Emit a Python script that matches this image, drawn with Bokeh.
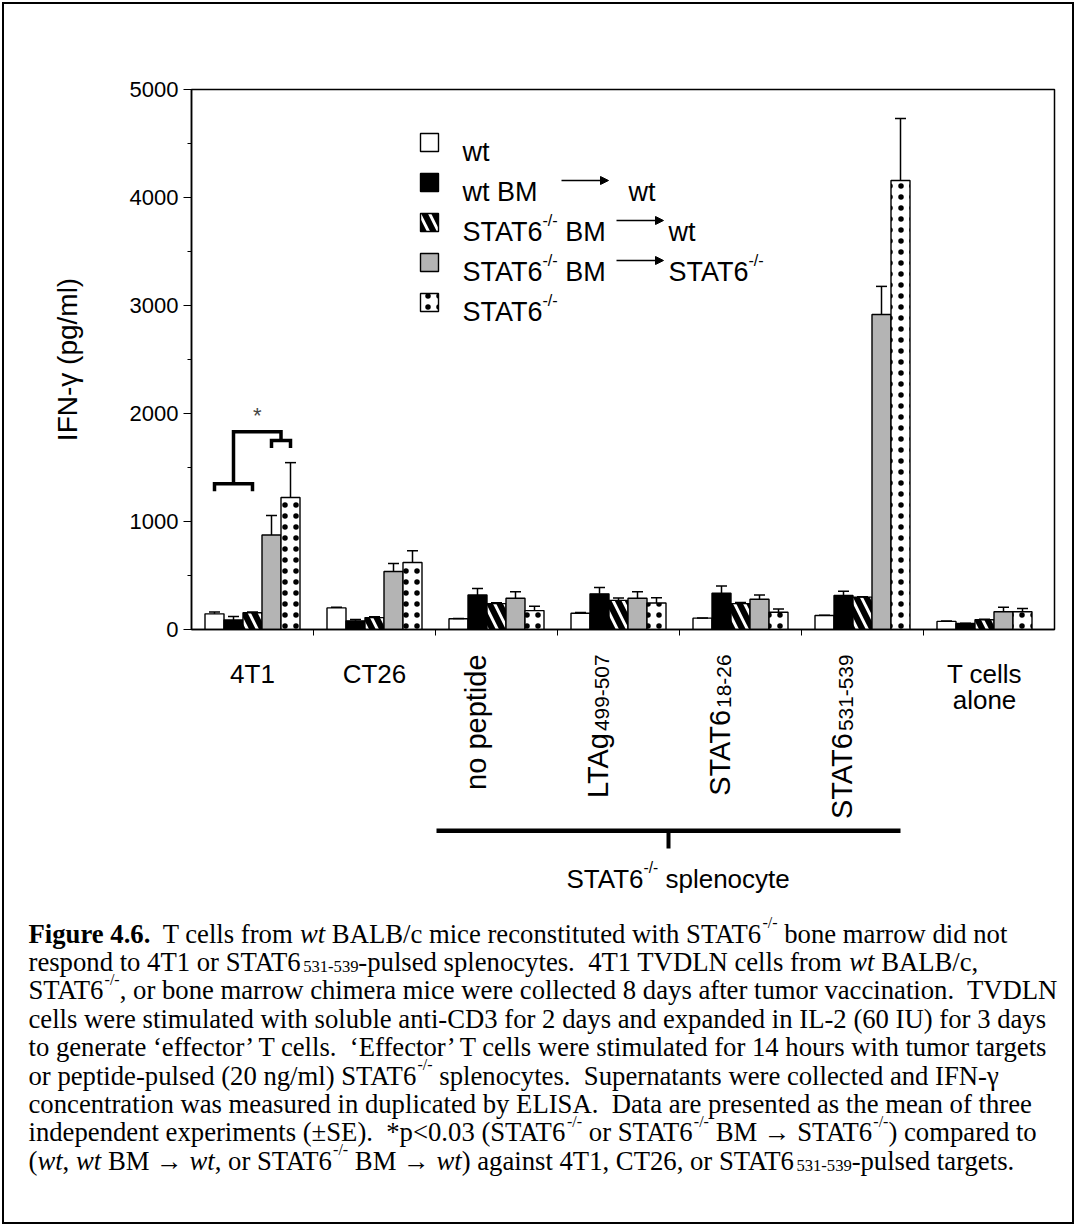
import math
from bokeh.plotting import figure
from bokeh.layouts import column
from bokeh.models import (Range1d, FixedTicker, Label, Arrow, NormalHead)
from bokeh.embed import file_html
from bokeh.resources import INLINE

# ---------------- data ----------------
groups = ["4T1", "CT26", "no peptide", "LTAg499-507", "STAT6 18-26", "STAT6 531-539", "T cells alone"]
group_main = ["4T1", "CT26", "no peptide", "LTAg", "STAT6", "STAT6", "T cells"]
group_sub = ["", "", "", "499-507", "18-26", "531-539", "alone"]
group_rot = [False, False, True, True, True, True, False]

series_names = ["wt", "wt BM -> wt", "STAT6-/- BM -> wt", "STAT6-/- BM -> STAT6-/-", "STAT6-/-"]
wt = [145, 200, 100, 150, 105, 130, 75]
wt_err = [18, 6, 2, 8, 2, 3, 4]
wtbm = [88, 80, 320, 330, 335, 315, 55]
wtbm_err = [32, 12, 60, 60, 68, 40, 4]
bm_wt = [155, 110, 240, 270, 240, 300, 90]
bm_wt_err = [8, 8, 8, 22, 10, 4, 6]
bm_stat = [875, 537, 290, 290, 280, 2917, 165]
bm_stat_err = [180, 73, 60, 60, 40, 260, 40]
stat6 = [1222, 620, 175, 245, 160, 4157, 165]
stat6_err = [323, 110, 40, 50, 30, 574, 30]
values = [wt, wtbm, bm_wt, bm_stat, stat6]
errors = [wt_err, wtbm_err, bm_wt_err, bm_stat_err, stat6_err]

y_ticks = [0, 1000, 2000, 3000, 4000, 5000]
bracket_levels = [1280, 1350, 1830, 1750, 1680]   # significance bracket heights

# ---------------- layout (screenshot px) ----------------
ORG = 4                     # content origin inside the bordered column
CW = 1068                   # content width
HA, HB = 647, 571           # heights of chart part and caption part
FL, FT, FR, FB = 191, 89, 1054, 629
GPX = 122.0
BW = 19.0 / GPX
YMAX = 5000.0
PXY = (FB - FT) / YMAX


def X(sx):
    return (sx - FL) / GPX


def Y(sy):
    return (FB - sy) / PXY


p = figure(width=CW, height=HA, output_backend="svg", toolbar_location=None,
           x_range=Range1d(0, (FR - FL) / GPX), y_range=Range1d(0, YMAX),
           min_border_left=FL - ORG, min_border_top=FT - ORG,
           min_border_right=CW - (FR - ORG), min_border_bottom=HA - (FB - ORG))
p.grid.visible = False
p.outline_line_color = "black"
p.outline_line_width = 1.5
p.background_fill_color = "white"
p.border_fill_color = "white"

p.yaxis.ticker = FixedTicker(ticks=y_ticks, minor_ticks=[500 + 1000 * i for i in range(5)])
p.yaxis.major_tick_out = 8
p.yaxis.major_tick_in = 0
p.yaxis.minor_tick_out = 4
p.yaxis.minor_tick_in = 0
p.yaxis.axis_line_width = 1.5
p.yaxis.major_tick_line_width = 1.2
p.yaxis.major_label_text_font = "Liberation Sans"
p.yaxis.major_label_text_font_size = "22px"
p.yaxis.major_label_text_color = "black"
p.yaxis.major_label_standoff = 5
p.yaxis.axis_label = "IFN-γ (pg/ml)"
p.yaxis.axis_label_text_font = "Liberation Sans"
p.yaxis.axis_label_text_font_size = "28px"
p.yaxis.axis_label_text_font_style = "normal"
p.yaxis.axis_label_text_color = "black"
p.yaxis.axis_label_standoff = 44

p.xaxis.ticker = FixedTicker(ticks=[1, 2, 3, 4, 5, 6], minor_ticks=[])
p.xaxis.major_tick_out = 6
p.xaxis.major_tick_in = 0
p.xaxis.axis_line_width = 1.5
p.xaxis.major_label_text_font_size = "0px"
p.xaxis.major_label_overrides = {i: "" for i in range(1, 7)}

STY = [
    dict(fill_color="white"),
    dict(fill_color="black"),
    dict(fill_color="white", hatch_pattern="left_diagonal_line", hatch_color="black",
         hatch_weight=6, hatch_scale=20),
    dict(fill_color="#b4b4b4"),
    dict(fill_color="white", hatch_pattern="dot", hatch_color="black",
         hatch_weight=1, hatch_scale=11),
]

bar_x = []
for k in range(5):
    xs = [g + 0.5 + (k - 2) * BW for g in range(len(groups))]
    bar_x.append(xs)
    p.vbar(x=xs, top=values[k], width=BW, bottom=0, line_color="black",
           line_width=1.4, **STY[k])
    tops = [v + e for v, e in zip(values[k], errors[k])]
    cw = 5.5 / GPX
    p.segment(x0=xs, y0=values[k], x1=xs, y1=tops, line_color="black", line_width=1.5)
    p.segment(x0=[x - cw for x in xs], y0=tops, x1=[x + cw for x in xs], y1=tops,
              line_color="black", line_width=1.5)

# significance brackets (4T1 group)
b = [bar_x[k][0] for k in range(5)]
lo_t, lo, top, sm, sm_t = bracket_levels
m34 = (b[3] + b[4]) / 2
bk = dict(line_color="black", line_width=3.5, line_join="miter")
p.line([b[0], b[0], b[2], b[2]], [lo_t, lo, lo, lo_t], **bk)
p.line([b[1], b[1], m34, m34], [lo, top, top, sm], **bk)
p.line([b[3], b[3], b[4], b[4]], [sm_t, sm, sm, sm_t], **bk)
p.add_layout(Label(x=(b[1] + m34) / 2, y=Y(415), text="*", text_font="Liberation Sans",
                   text_font_size="22px", text_align="center", text_baseline="middle"))

# ---------------- lower figure (labels + caption), data units = page pixels ----------------
q = figure(width=CW, height=HB, output_backend="svg", toolbar_location=None,
           x_range=Range1d(ORG, ORG + CW), y_range=Range1d(ORG + HA + HB, ORG + HA),
           x_axis_type=None, y_axis_type=None, min_border=0)
q.grid.visible = False
q.outline_line_color = None
q.background_fill_color = "white"
q.border_fill_color = "white"

for fig in (p, q):
    if "frame_align" in fig.properties():
        fig.frame_align = False


# ---------------- text helpers ----------------
def mk(upper, lower, digits, extra):
    d = dict(zip("ABCDEFGHIJKLMNOPQRSTUVWXYZ", upper))
    d.update(zip("abcdefghijklmnopqrstuvwxyz", lower))
    d.update({c: digits for c in "0123456789"})
    d.update(extra)
    return {k: v / 1000.0 for k, v in d.items()}


ARIAL = mk([667, 667, 722, 722, 667, 611, 778, 722, 278, 500, 667, 556, 833, 722, 778, 667, 778, 722, 667, 611, 722, 667, 944, 667, 667, 611],
           [556, 556, 500, 556, 556, 278, 556, 556, 222, 222, 500, 222, 833, 556, 556, 556, 556, 333, 500, 278, 556, 500, 722, 500, 500, 500],
           556, {" ": 278, "-": 333, "/": 278, "(": 333, ")": 333, "*": 389, "γ": 500})
TIMES = mk([722, 667, 667, 722, 611, 556, 722, 722, 333, 389, 722, 611, 889, 722, 722, 556, 722, 667, 556, 611, 722, 722, 944, 722, 722, 611],
           [444, 500, 444, 500, 444, 333, 500, 500, 278, 278, 500, 278, 778, 500, 500, 500, 500, 333, 389, 278, 500, 500, 722, 500, 500, 444],
           500, {" ": 250, "\u00a0": 250, ".": 250, ",": 250, "-": 333, "(": 333, ")": 333, "/": 278,
                 "*": 500, "<": 564, "±": 564, "→": 1000, "γ": 411, "‘": 333, "’": 333, ":": 278})
TIMES_B = dict(TIMES)
TIMES_B.update({"u": 0.556, "r": 0.444})
TIMES_I = dict(TIMES)
TIMES_I.update({"w": 0.667})


def tw(s, table):
    return sum(table.get(c, 0.5) for c in s)


def add_text(fig, text, sx, sy, fs, font="Liberation Sans", style="normal", align="left",
             baseline="alphabetic", angle=0.0):
    if fig is p:
        x, y = X(sx), Y(sy)
    else:
        x, y = sx, sy
    fig.add_layout(Label(x=x, y=y, text=text, text_font=font,
                         text_font_size="%.1fpx" % fs, text_font_style=style,
                         text_color="black", text_align=align, text_baseline=baseline,
                         angle=angle, angle_units="rad"))


def runs_h(fig, runs, x0, base, fs, font, table):
    x = x0
    for txt, st in runs:
        f, dy, style, tb = fs, 0.0, "normal", table
        if st == "sup":
            f, dy = fs * 0.6, -0.42 * fs
            x -= 0.15 * fs
        elif st == "sub":
            f, dy = fs * 0.62, 0.18 * fs
            x -= 0.1 * fs
        elif st == "b":
            style, tb = "bold", (TIMES_B if table is TIMES else table)
        elif st == "i":
            style, tb = "italic", (TIMES_I if table is TIMES else table)
        core = txt.strip(" ")
        lead = len(txt) - len(txt.lstrip(" "))
        if core:
            add_text(fig, core, x + tw(" " * lead, tb) * f, base + dy, f, font, style)
        x += tw(txt, tb) * f
    return x


def runs_v(fig, runs, bx, top_y, fs, font, table):
    sizes = [(fs * 0.72 if st == "sub" else fs) for _, st in runs]
    total = sum(tw(t, table) * f for (t, _), f in zip(runs, sizes)) - (0.08 * fs if len(runs) > 1 else 0)
    y = top_y + total
    for (txt, st), f in zip(runs, sizes):
        dx = 0.16 * fs if st == "sub" else 0.0
        add_text(fig, txt, bx + dx, y, f, font, "normal", angle=math.pi / 2)
        y -= tw(txt, table) * f - 0.08 * fs


# ---------------- group labels ----------------
for g in range(len(groups)):
    cx = FL + (g + 0.5) * GPX
    if group_rot[g]:
        runs = [(group_main[g], "n")]
        if group_sub[g]:
            runs.append((group_sub[g], "sub"))
        runs_v(q, runs, cx - 21, 654, 29, "Liberation Sans", ARIAL)
    else:
        add_text(q, group_main[g], cx, 673, 26, align="center")
        if group_sub[g]:
            add_text(q, group_sub[g], cx, 699, 26, align="center")

# ---------------- legend ----------------
rows = [142, 182, 222, 262, 302]
for k, ry in enumerate(rows):
    p.rect(x=[X(429)], y=[Y(ry)], width=18, height=18, width_units="screen",
           height_units="screen", line_color="black", line_width=1.4, **STY[k])
LF = 27
runs_h(p, [("wt", "n")], 462, rows[0] + 9, LF, "Liberation Sans", ARIAL)
runs_h(p, [("wt BM", "n")], 462, rows[1] + 9, LF, "Liberation Sans", ARIAL)
runs_h(p, [("wt", "n")], 628, rows[1] + 9, LF, "Liberation Sans", ARIAL)
for r in (2, 3):
    runs_h(p, [("STAT6", "n"), ("-/-", "sup"), (" BM", "n")], 462, rows[r] + 9, LF,
           "Liberation Sans", ARIAL)
runs_h(p, [("wt", "n")], 668, rows[2] + 9, LF, "Liberation Sans", ARIAL)
runs_h(p, [("STAT6", "n"), ("-/-", "sup")], 668, rows[3] + 9, LF, "Liberation Sans", ARIAL)
runs_h(p, [("STAT6", "n"), ("-/-", "sup")], 462, rows[4] + 9, LF, "Liberation Sans", ARIAL)
for r, (x0, x1) in zip((1, 2, 3), ((561, 608), (616, 663), (616, 663))):
    p.add_layout(Arrow(x_start=X(x0), y_start=Y(rows[r] - 2), x_end=X(x1), y_end=Y(rows[r] - 2),
                       line_width=1.3, line_color="black",
                       end=NormalHead(size=8, fill_color="black", line_color="black")))

# ---------------- splenocyte bracket ----------------
q.quad(left=[436, 666], right=[900, 670], top=[828, 830], bottom=[832.5, 848],
       fill_color="black", line_color=None)
runs_h(q, [("STAT6", "n"), ("-/-", "sup"), (" splenocyte", "n")], 566, 878, 26,
       "Liberation Sans", ARIAL)

# ---------------- caption ----------------
caption = [
    [("Figure 4.6.", "b"), ("  T cells from ", "n"), ("wt", "i"),
     (" BALB/c mice reconstituted with STAT6", "n"), ("-/-", "sup"), (" bone marrow did not", "n")],
    [("respond to 4T1 or STAT6", "n"), ("531-539", "sub"),
     ("-pulsed splenocytes.\u00a0 4T1 TVDLN cells from ", "n"), ("wt", "i"), (" BALB/c,", "n")],
    [("STAT6", "n"), ("-/-", "sup"),
     (", or bone marrow chimera mice were collected 8 days after tumor vaccination.\u00a0 TVDLN", "n")],
    [("cells were stimulated with soluble anti-CD3 for 2 days and expanded in IL-2 (60 IU) for 3 days", "n")],
    [("to generate ‘effector’ T cells.\u00a0 ‘Effector’ T cells were stimulated for 14 hours with tumor targets", "n")],
    [("or peptide-pulsed (20 ng/ml) STAT6", "n"), ("-/-", "sup"),
     (" splenocytes.\u00a0 Supernatants were collected and IFN-γ", "n")],
    [("concentration was measured in duplicated by ELISA.\u00a0 Data are presented as the mean of three", "n")],
    [("independent experiments (±SE).\u00a0 *p<0.03 (STAT6", "n"), ("-/-", "sup"), (" or STAT6", "n"),
     ("-/-", "sup"), (" BM → STAT6", "n"), ("-/-", "sup"), (") compared to", "n")],
    [("(", "n"), ("wt", "i"), (", ", "n"), ("wt", "i"), (" BM → ", "n"), ("wt", "i"),
     (", or STAT6", "n"), ("-/-", "sup"), (" BM → ", "n"), ("wt", "i"),
     (") against 4T1, CT26, or STAT6", "n"), ("531-539", "sub"), ("-pulsed targets.", "n")],
]
for i, line in enumerate(caption):
    runs_h(q, line, 28, 933 + i * 28.4, 26.7, "Liberation Serif", TIMES)

layout = column(p, q, spacing=0, styles={"border": "2px solid black", "margin": "2px"})
open("out.html", "w").write(file_html(layout, INLINE))
